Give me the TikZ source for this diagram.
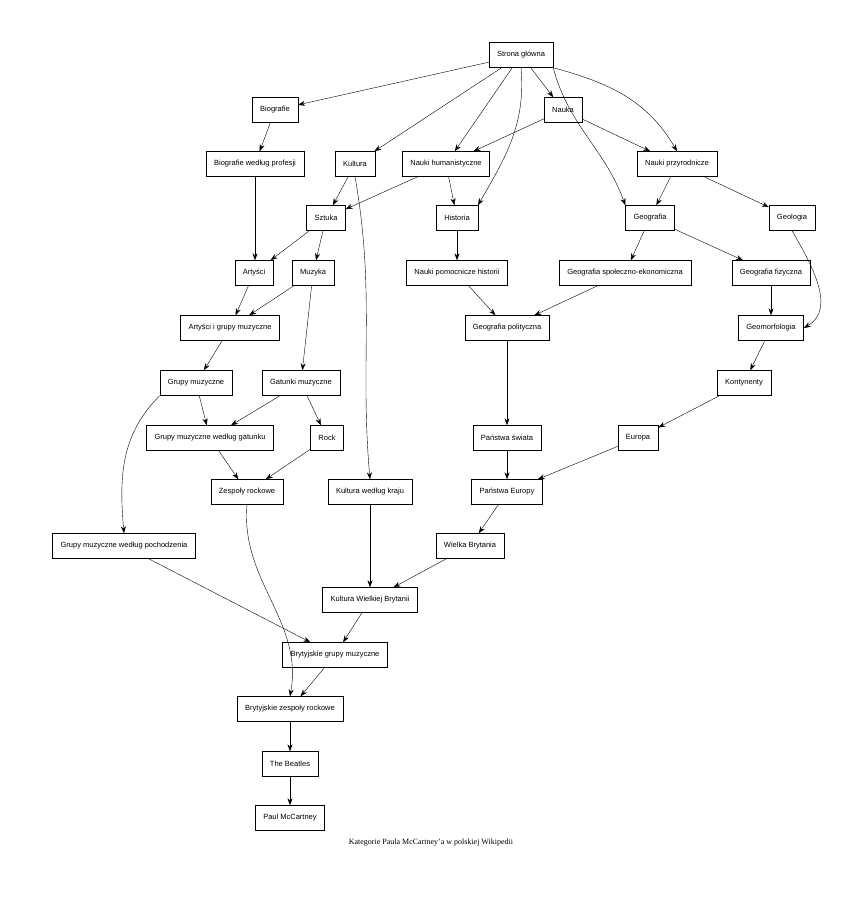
\documentclass[tikz,border=0pt]{standalone}
\usepackage{fontspec}
\setmainfont{Liberation Serif}
\newfontfamily\boxfont{Liberation Sans}
\usetikzlibrary{arrows.meta}

\tikzset{
  cat/.style={draw,thin,fill=white,minimum height=25pt,inner xsep=8pt,font=\boxfont\fontsize{7.5}{9}\selectfont},
  link/.style={-{Stealth[length=7pt,width=5pt]},thin}
}

\begin{document}
\begin{tikzpicture}[x=1pt,y=-1pt]
  \useasboundingbox (0,0) rectangle (860,910);
  % level by level, from the top
  \node[cat] (sg) at (521,55) {Strona główna};
  \node[cat] (bio) at (275,110) {Biografie};
  \node[cat] (nauka) at (563,110) {Nauka};
  \node[cat] (kult) at (355,164) {Kultura};
  \node[cat] (hum) at (446,164) {Nauki humanistyczne};
  \node[cat] (przyr) at (677,164) {Nauki przyrodnicze};
  \node[cat] (bioprof) at (255,164) {Biografie według profesji};
  \node[cat] (szt) at (326,218) {Sztuka};
  \node[cat] (hist) at (457,218) {Historia};
  \node[cat] (geo) at (650,218) {Geografia};
  \node[cat] (geol) at (792,218) {Geologia};
  \node[cat] (art) at (254,273) {Artyści};
  \node[cat] (muz) at (313,273) {Muzyka};
  \node[cat] (npom) at (457,273) {Nauki pomocnicze historii};
  \node[cat] (gse) at (625,273) {Geografia społeczno-ekonomiczna};
  \node[cat] (gfiz) at (771,273) {Geografia fizyczna};
  \node[cat] (aigm) at (230,328) {Artyści i grupy muzyczne};
  \node[cat] (gpol) at (507,328) {Geografia polityczna};
  \node[cat] (gmorf) at (771,328) {Geomorfologia};
  \node[cat] (gm) at (196,383) {Grupy muzyczne};
  \node[cat] (gat) at (301,383) {Gatunki muzyczne};
  \node[cat] (kont) at (744,383) {Kontynenty};
  \node[cat] (gmgat) at (210,438) {Grupy muzyczne według gatunku};
  \node[cat] (rock) at (327,438) {Rock};
  \node[cat] (psw) at (507,438) {Państwa świata};
  \node[cat] (eur) at (638,438) {Europa};
  \node[cat] (zr) at (247,492) {Zespoły rockowe};
  \node[cat] (kwk) at (370,492) {Kultura według kraju};
  \node[cat] (peur) at (507,492) {Państwa Europy};
  \node[cat] (gmpoch) at (124,546) {Grupy muzyczne według pochodzenia};
  \node[cat] (wb) at (470,546) {Wielka Brytania};
  \node[cat] (kwb) at (370,600) {Kultura Wielkiej Brytanii};
  \node[cat] (bgm) at (335,655) {Brytyjskie grupy muzyczne};
  \node[cat] (bzr) at (290,709) {Brytyjskie zespoły rockowe};
  \node[cat] (beat) at (290,764) {The Beatles};
  \node[cat] (paul) at (290,818) {Paul McCartney};
  \node[font=\fontsize{8}{10}\selectfont] (cap) at (431,843) {Kategorie Paula McCartney'a w polskiej Wikipedii};

  \draw[link] (sg) -- (bio);
  \draw[link] (sg) -- (kult);
  \draw[link] (sg) -- (hum);
  \draw[link] (sg) -- (nauka);
  \draw[link] (sg.south) to[out=-85,in=60] (hist.north east);
  \draw[link] (sg.south east) to[out=-75,in=110] (geo.north west);
  \draw[link] (sg.south east) to[out=-15,in=120] (przyr.north);
  \draw[link] (nauka) -- (hum);
  \draw[link] (nauka) -- (przyr);
  \draw[link] (bio) -- (bioprof);
  \draw[link] (bioprof.south) -- (bioprof.south |- art.north);
  \draw[link] (kult) -- (szt);
  \draw[link] (kult.south) to[out=-80,in=95] (kwk.north);
  \draw[link] (hum) -- (szt);
  \draw[link] (hum) -- (hist);
  \draw[link] (przyr) -- (geo);
  \draw[link] (przyr) -- (geol);
  \draw[link] (szt) -- (art);
  \draw[link] (szt) -- (muz);
  \draw[link] (hist) -- (npom);
  \draw[link] (npom) -- (gpol);
  \draw[link] (geo) -- (gse);
  \draw[link] (geo) -- (gfiz);
  \draw[link] (gse) -- (gpol);
  \draw[link] (geol.south) to[out=-60,in=30] (gmorf.east);
  \draw[link] (gfiz) -- (gmorf);
  \draw[link] (art) -- (aigm);
  \draw[link] (muz) -- (aigm);
  \draw[link] (muz) -- (gat);
  \draw[link] (aigm) -- (gm);
  \draw[link] (gm) -- (gmgat);
  \draw[link] (gm.south west) to[out=-135,in=95] (gmpoch.north);
  \draw[link] (gat) -- (gmgat);
  \draw[link] (gat) -- (rock);
  \draw[link] (gmgat) -- (zr);
  \draw[link] (rock) -- (zr);
  \draw[link] (zr.south) to[out=-95,in=80] (bzr.north);
  \draw[link] (gpol) -- (psw);
  \draw[link] (psw) -- (peur);
  \draw[link] (gmorf) -- (kont);
  \draw[link] (kont) -- (eur);
  \draw[link] (eur) -- (peur);
  \draw[link] (peur) -- (wb);
  \draw[link] (wb) -- (kwb);
  \draw[link] (kwk) -- (kwb);
  \draw[link] (gmpoch) -- (bgm);
  \draw[link] (kwb) -- (bgm);
  \draw[link] (bgm) -- (bzr);
  \draw[link] (bzr) -- (beat);
  \draw[link] (beat) -- (paul);
\end{tikzpicture}
\end{document}
